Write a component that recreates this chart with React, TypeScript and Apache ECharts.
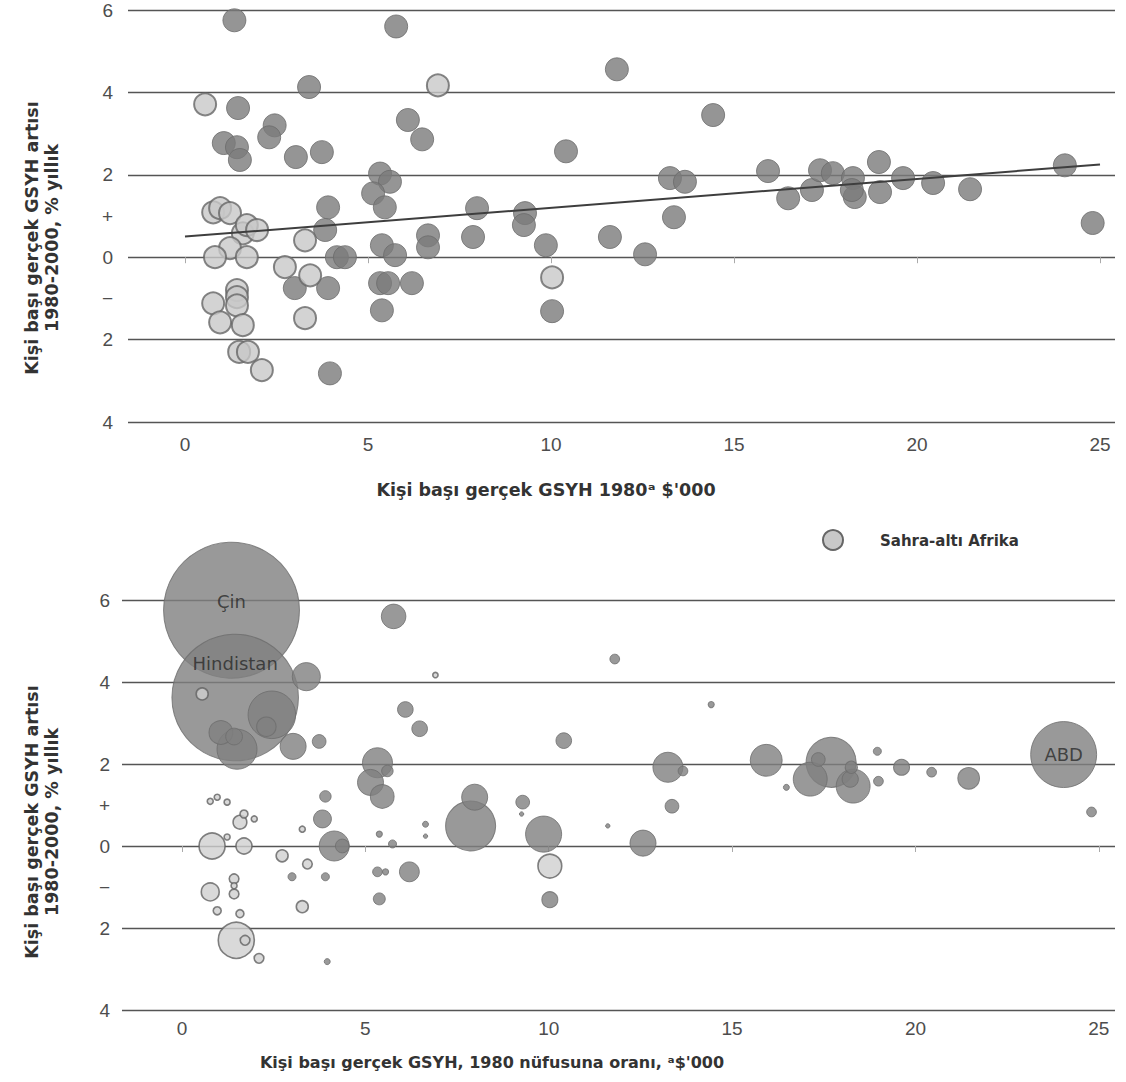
import React, { useEffect, useRef } from "react";
import * as echarts from "echarts";

// Non sub-Saharan countries: [GDP per head 1980 $'000, growth 1980-2000 % a year, population 1980 m, label]
const otherCountries: [number, number, number, string][] = [
  [1.35, 5.75, 980, "Çin"],
  [1.45, 3.62, 850, "Hindistan"],
  [24.04, 2.23, 231, "ABD"],
  [5.77, 5.6, 32, ""],
  [3.39, 4.13, 42, ""],
  [11.8, 4.56, 5, ""],
  [14.43, 3.45, 2, ""],
  [2.45, 3.2, 120, ""],
  [2.3, 2.91, 20, ""],
  [1.06, 2.77, 30, ""],
  [1.42, 2.67, 15, ""],
  [1.5, 2.36, 85, ""],
  [3.03, 2.43, 36, ""],
  [3.74, 2.55, 10, ""],
  [6.09, 3.33, 13, ""],
  [6.48, 2.86, 13, ""],
  [10.41, 2.57, 13, ""],
  [5.33, 2.03, 48, ""],
  [5.6, 1.83, 7, ""],
  [5.14, 1.55, 36, ""],
  [5.46, 1.21, 30, ""],
  [3.91, 1.21, 7, ""],
  [3.83, 0.66, 17, ""],
  [4.15, 0.0, 48, ""],
  [4.37, 0.0, 10, ""],
  [5.38, 0.29, 2, ""],
  [5.74, 0.05, 3.4, ""],
  [3.0, -0.75, 3.4, ""],
  [3.91, -0.75, 3.4, ""],
  [5.33, -0.63, 5, ""],
  [5.55, -0.63, 2, ""],
  [6.2, -0.63, 21, ""],
  [5.38, -1.29, 7.6, ""],
  [3.96, -2.82, 1.9, ""],
  [6.64, 0.53, 1.9, ""],
  [6.64, 0.24, 1, ""],
  [7.98, 1.19, 36, ""],
  [7.87, 0.49, 133, ""],
  [9.29, 1.07, 10, ""],
  [9.26, 0.78, 1, ""],
  [9.86, 0.29, 69, ""],
  [10.03, -1.31, 13.6, ""],
  [11.61, 0.49, 1, ""],
  [12.57, 0.07, 36, ""],
  [13.25, 1.92, 48, ""],
  [13.66, 1.83, 5, ""],
  [13.36, 0.97, 10, ""],
  [15.93, 2.09, 54, ""],
  [16.48, 1.43, 1.9, ""],
  [17.13, 1.63, 61, ""],
  [17.35, 2.11, 10, ""],
  [17.7, 2.04, 133, ""],
  [18.25, 1.92, 8, ""],
  [18.3, 1.46, 61, ""],
  [18.22, 1.63, 14, ""],
  [18.96, 2.31, 3.4, ""],
  [18.99, 1.58, 5, ""],
  [19.62, 1.92, 13.6, ""],
  [20.44, 1.8, 5, ""],
  [21.45, 1.65, 25, ""],
  [24.8, 0.83, 5, ""],
];

// Sub-Saharan Africa: [GDP per head 1980, growth, population]
const ssaCountries: [number, number, number][] = [
  [0.55, 3.71, 7.6],
  [6.91, 4.17, 1.5],
  [0.77, 1.09, 1.9],
  [0.96, 1.19, 1.9],
  [1.23, 1.07, 1.9],
  [1.58, 0.58, 10],
  [1.69, 0.78, 3.4],
  [1.97, 0.66, 1.9],
  [1.23, 0.22, 1.9],
  [0.82, 0.0, 36],
  [1.69, 0.0, 13.6],
  [2.73, -0.24, 7.6],
  [3.28, 0.41, 1.9],
  [3.42, -0.44, 5],
  [1.42, -0.8, 5],
  [1.42, -0.97, 1.9],
  [1.42, -1.17, 5],
  [0.77, -1.12, 17],
  [0.96, -1.58, 3.4],
  [1.58, -1.65, 3.4],
  [1.48, -2.3, 69],
  [1.72, -2.3, 5],
  [2.1, -2.74, 5],
  [3.28, -1.48, 7.6],
  [10.03, -0.49, 30],
];

// Fitted trend line (top panel)
const trendLine: [number, number][] = [
  [0, 0.5],
  [25, 2.25],
];

const yTickValues = [6, 4, 2, 1, 0, -1, -2, -4];
const yTickLabels = ["6", "4", "2", "+", "0", "−", "2", "4"];
const xTickValues = [0, 5, 10, 15, 20, 25];

const TICK_FONT = "'Liberation Sans', Arial, sans-serif";
const TITLE_FONT = "'DejaVu Sans', Lato, sans-serif";

export default function App() {
  const ref = useRef<HTMLDivElement>(null);

  useEffect(() => {
    document.body.style.margin = "0";
    if (!ref.current) return;
    const chart = echarts.init(ref.current, undefined, { renderer: "svg" });

    const yLabel = (v: number) => {
      const i = yTickValues.indexOf(v);
      return i >= 0 ? yTickLabels[i] : "";
    };

    const makeX = (gridIndex: number, min: number, max: number, margin: number) => ({
      type: "value",
      gridIndex,
      min,
      max,
      splitLine: { show: false },
      axisLine: { show: false },
      axisTick: {
        show: true,
        customValues: xTickValues,
        length: 6,
        lineStyle: { color: "#aaa", width: 1 },
      },
      axisLabel: {
        customValues: xTickValues,
        color: "#4d4d4d",
        fontSize: 19,
        fontFamily: TICK_FONT,
        margin,
      },
    });

    const makeY = (gridIndex: number, margin: number) => ({
      type: "value",
      gridIndex,
      min: -4,
      max: 6,
      interval: 2,
      axisLine: { show: false },
      axisTick: { show: false },
      splitLine: { show: true, lineStyle: { color: "#555", width: 1.3 } },
      axisLabel: {
        customValues: yTickValues,
        formatter: yLabel,
        color: "#4d4d4d",
        fontSize: 19,
        fontFamily: TICK_FONT,
        margin,
      },
    });

    const K = 2.17; // radius per sqrt(million people)
    const bubbleSize = (v: number[]) => 2 * K * Math.sqrt(v[2]);

    const otherSorted = [...otherCountries].sort((a, b) => b[2] - a[2]);
    const ssaSorted = [...ssaCountries].sort((a, b) => b[2] - a[2]);

    const labelOffsets: Record<string, number[]> = {
      "Çin": [0, -9],
      Hindistan: [0, -34],
      ABD: [0, 0],
    };

    const titleStyle = {
      font: `bold 16px ${TITLE_FONT}`,
      fill: "#333",
      align: "center",
      verticalAlign: "middle",
    };

    const option: any = {
      animation: false,
      grid: [
        { left: 128, right: 11, top: 10, height: 412 },
        { left: 122, right: 11, top: 600, height: 410 },
      ],
      xAxis: [makeX(0, -1.557, 25.41, 13), makeX(1, -1.636, 25.44, 9)],
      yAxis: [makeY(0, 15), makeY(1, 12)],
      series: [
        {
          type: "scatter",
          xAxisIndex: 0,
          yAxisIndex: 0,
          symbolSize: 23,
          clip: false,
          data: otherCountries.map((d) => [d[0], d[1]]),
          itemStyle: { color: "#7b7b7b", borderColor: "#6c6c6c", borderWidth: 1 },
        },
        {
          type: "scatter",
          xAxisIndex: 0,
          yAxisIndex: 0,
          symbolSize: 22,
          clip: false,
          data: ssaCountries.map((d) => [d[0], d[1]]),
          itemStyle: { color: "#c8c8c8", borderColor: "#666", borderWidth: 2 },
        },
        {
          type: "line",
          xAxisIndex: 0,
          yAxisIndex: 0,
          data: trendLine,
          symbol: "none",
          lineStyle: { color: "#3e3e3e", width: 2 },
          z: 5,
        },
        {
          type: "scatter",
          xAxisIndex: 1,
          yAxisIndex: 1,
          clip: false,
          symbolSize: bubbleSize,
          data: otherSorted.map((d) => {
            const item: any = { value: [d[0], d[1], d[2]] };
            if (d[3]) {
              item.label = {
                show: true,
                formatter: d[3],
                position: "inside",
                offset: labelOffsets[d[3]],
                color: "#2a2a2a",
                fontSize: 18,
                fontFamily: TITLE_FONT,
              };
            }
            return item;
          }),
          itemStyle: { color: "#808080", borderColor: "#6d6d6d", borderWidth: 1 },
        },
        {
          type: "scatter",
          xAxisIndex: 1,
          yAxisIndex: 1,
          clip: false,
          symbolSize: bubbleSize,
          data: ssaSorted.map((d) => [d[0], d[1], d[2]]),
          itemStyle: { color: "#d0d0d0", borderColor: "#616161", borderWidth: 1.6 },
        },
      ],
      graphic: [
        {
          type: "text",
          x: 42,
          y: 238,
          rotation: Math.PI / 2,
          style: {
            ...titleStyle,
            font: `bold 17.5px ${TITLE_FONT}`,
            text: "Kişi başı gerçek GSYH artısı\n1980-2000, % yıllık",
            lineHeight: 20,
          },
        },
        {
          type: "text",
          x: 42,
          y: 822,
          rotation: Math.PI / 2,
          style: {
            ...titleStyle,
            font: `bold 17.5px ${TITLE_FONT}`,
            text: "Kişi başı gerçek GSYH artısı\n1980-2000, % yıllık",
            lineHeight: 20,
          },
        },
        {
          type: "text",
          x: 546,
          y: 490,
          style: {
            ...titleStyle,
            font: `bold 17.5px ${TITLE_FONT}`,
            text: "Kişi başı gerçek GSYH 1980ᵃ $'000",
          },
        },
        {
          type: "text",
          x: 492,
          y: 1062,
          style: { ...titleStyle, text: "Kişi başı gerçek GSYH, 1980 nüfusuna oranı, ᵃ$'000" },
        },
        {
          type: "circle",
          shape: { cx: 833, cy: 540, r: 10 },
          style: { fill: "#c8c8c8", stroke: "#666", lineWidth: 2 },
        },
        {
          type: "text",
          x: 880,
          y: 541,
          style: {
            text: "Sahra-altı Afrika",
            font: `bold 15px ${TITLE_FONT}`,
            fill: "#333",
            align: "left",
            verticalAlign: "middle",
          },
        },
      ],
    };

    chart.setOption(option);
    return () => chart.dispose();
  }, []);

  return <div ref={ref} style={{ width: 1126, height: 1082 }} />;
}
